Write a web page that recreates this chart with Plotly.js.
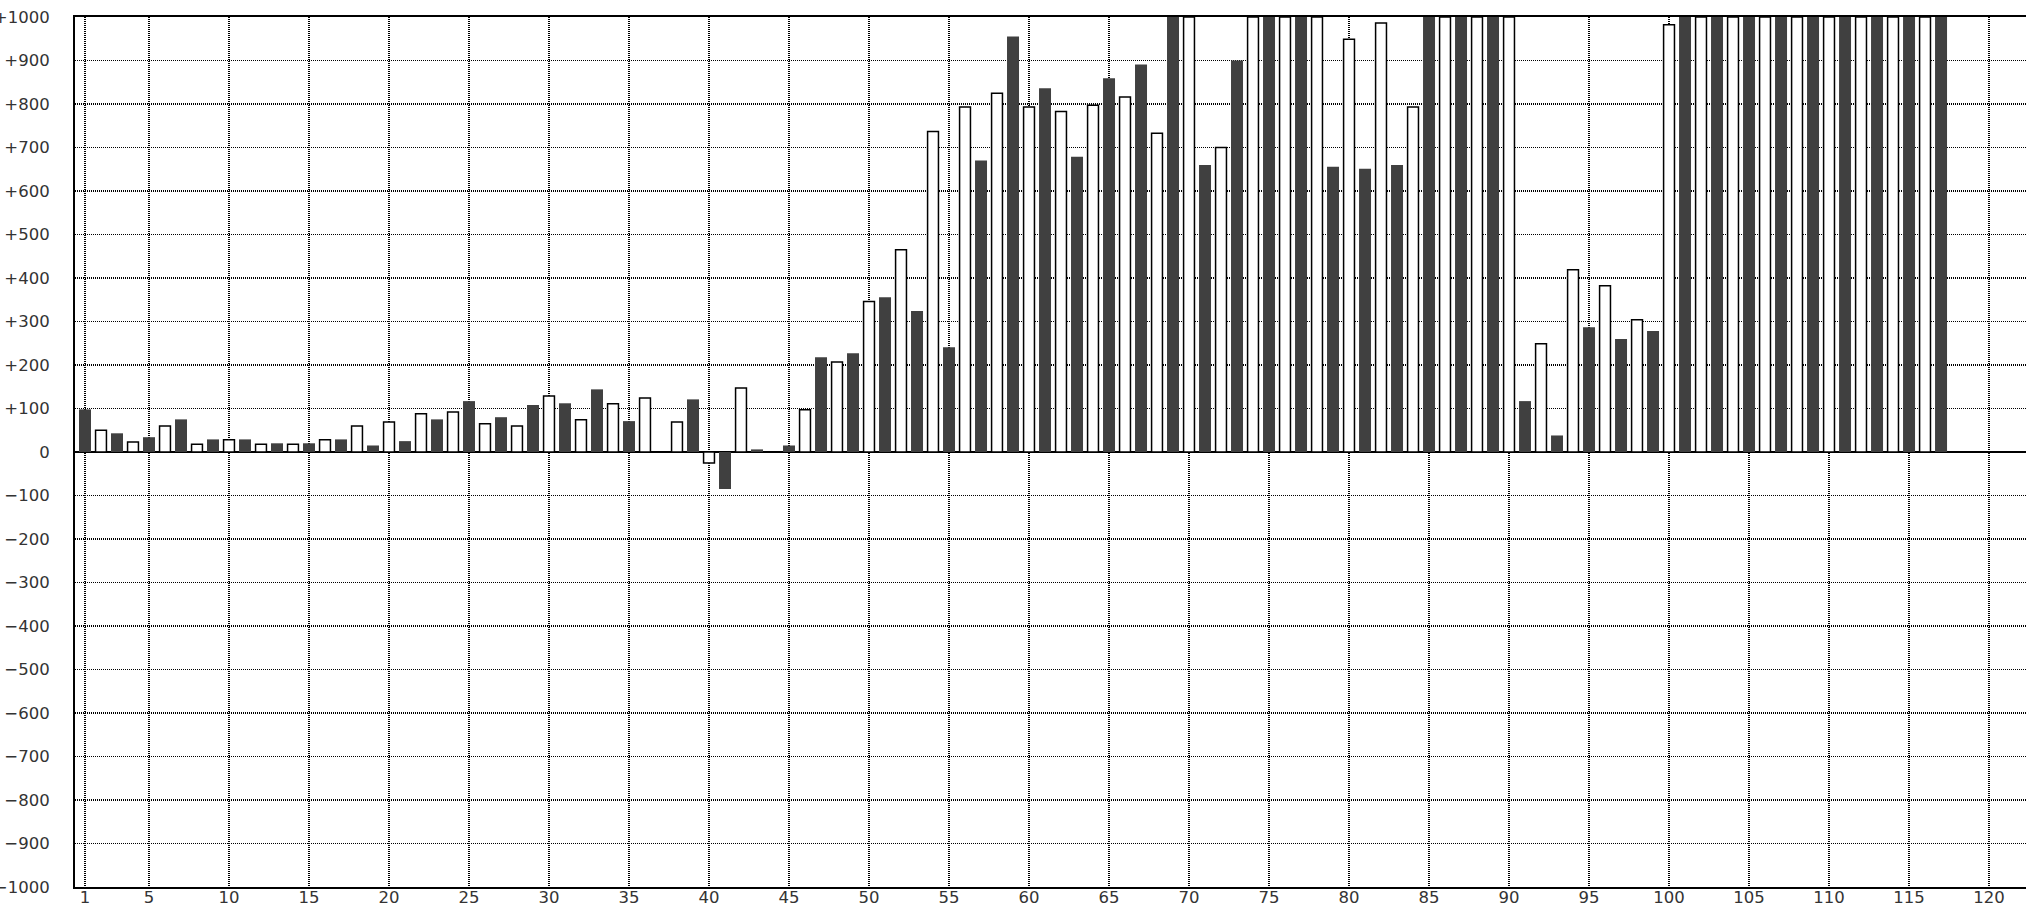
<!DOCTYPE html>
<html>
<head>
<meta charset="utf-8">
<script src="https://cdn.plot.ly/plotly-3.0.1.min.js"></script>
<style>
  html, body { margin: 0; padding: 0; background: #ffffff; overflow: hidden; }
  #chart { width: 2026px; height: 908px; }
</style>
</head>
<body>
<div id="chart"></div>
<script>
// Bar values for positions 1..117 (values above +1000 are clipped at the top of the chart)
const positions = [];
for (let i = 1; i <= 117; i++) positions.push(i);

const values = [
  98, 50, 43, 23, 34, 60, 75, 18, 29, 28,
  29, 18, 20, 18, 20, 28, 29, 60, 15, 69,
  25, 88, 75, 92, 117, 65, 80, 60, 108, 129,
  112, 74, 144, 111, 71, 124, 0, 69, 121, -25,
  -85, 147, 6, 0, 15, 97, 218, 207, 227, 346,
  356, 465, 324, 737, 241, 793, 670, 825, 955, 793,
  836, 783, 679, 797, 859, 816, 891, 733, 1000, 1000,
  660, 700, 900, 1000, 1000, 1000, 1000, 1000, 656, 949,
  651, 986, 660, 793, 1000, 1000, 1000, 1000, 1000, 1000,
  117, 249, 38, 419, 287, 382, 260, 304, 278, 982,
  1000, 1000, 1000, 1000, 1000, 1000, 1000, 1000, 1000, 1000,
  1000, 1000, 1000, 1000, 1000, 1000, 1000
];

const xTickVals = [1, 5, 10, 15, 20, 25, 30, 35, 40, 45, 50, 55, 60, 65, 70, 75, 80, 85, 90, 95, 100, 105, 110, 115, 120];
const xTickText = ["1", "5", "10", "15", "20", "25", "30", "35", "40", "45", "50", "55", "60", "65", "70", "75", "80", "85", "90", "95", "100", "105", "110", "115", "120"];
const yTickVals = [1000, 900, 800, 700, 600, 500, 400, 300, 200, 100, 0, -100, -200, -300, -400, -500, -600, -700, -800, -900, -1000];
const yTickText = ["+1000", "+900", "+800", "+700", "+600", "+500", "+400", "+300", "+200", "+100", "0",
  "\u2212100", "\u2212200", "\u2212300", "\u2212400", "\u2212500", "\u2212600", "\u2212700", "\u2212800", "\u2212900", "\u22121000"];

// split into odd (dark) and even (white) positions
const darkX = [], darkY = [], whiteX = [], whiteY = [];
positions.forEach((p, i) => {
  if (p % 2 === 1) { darkX.push(p); darkY.push(values[i]); }
  else { whiteX.push(p); whiteY.push(values[i]); }
});

const traces = [
  {
    type: 'bar', x: darkX, y: darkY, width: 0.75,
    marker: { color: '#404040', line: { width: 0 } },
    hoverinfo: 'skip'
  },
  {
    type: 'bar', x: whiteX, y: whiteY, width: 0.68,
    marker: { color: '#ffffff', line: { color: '#000000', width: 1.5 } },
    hoverinfo: 'skip'
  }
];

const tickFont = { family: 'DejaVu Sans', size: 16.5, color: '#333333' };

const layout = {
  width: 2026,
  height: 908,
  margin: { l: 75, r: 0, t: 17, b: 21, pad: 0 },
  paper_bgcolor: '#ffffff',
  plot_bgcolor: '#ffffff',
  showlegend: false,
  barmode: 'overlay',
  hovermode: false,
  xaxis: {
    range: [0.375, 122.31],
    tickmode: 'array',
    tickvals: xTickVals,
    ticktext: xTickText,
    showgrid: true,
    gridcolor: '#000000',
    gridwidth: 1.5,
    griddash: '1px,1px',
    zeroline: false,
    showline: true,
    linecolor: '#000000',
    linewidth: 2,
    mirror: true,
    ticks: '',
    tickfont: tickFont,
    ticklabelstandoff: -6,
    fixedrange: true
  },
  yaxis: {
    range: [-1000, 1000],
    tickmode: 'array',
    tickvals: yTickVals,
    ticktext: yTickText,
    showgrid: true,
    gridcolor: '#000000',
    gridwidth: 1.5,
    griddash: '1px,1px',
    zeroline: true,
    zerolinecolor: '#000000',
    zerolinewidth: 2,
    showline: true,
    linecolor: '#000000',
    linewidth: 2,
    mirror: false,
    ticks: '',
    tickfont: tickFont,
    ticklabelstandoff: 20,
    fixedrange: true
  }
};

Plotly.newPlot('chart', traces, layout, { displayModeBar: false, staticPlot: true });
</script>
</body>
</html>
